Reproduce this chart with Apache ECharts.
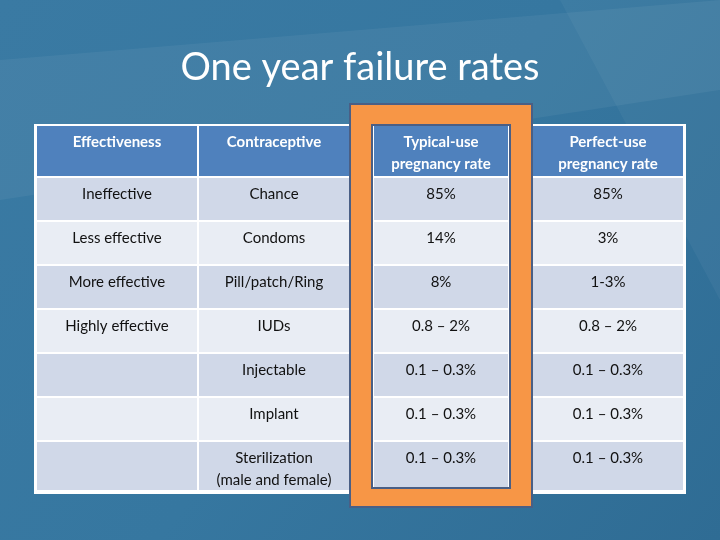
<!DOCTYPE html>
<html><head><meta charset="utf-8">
<script src="https://cdn.jsdelivr.net/npm/echarts@6/dist/echarts.min.js"></script>
<style>html,body{margin:0;padding:0}#c{width:720px;height:540px}</style>
</head><body><div id="c"></div>
<script>
var title = 'One year failure rates';
var headers = ['Effectiveness', 'Contraceptive', 'Typical-use\npregnancy rate', 'Perfect-use\npregnancy rate'];
var effectiveness = ['Ineffective', 'Less effective', 'More effective', 'Highly effective', '', '', ''];
var contraceptive = ['Chance', 'Condoms', 'Pill/patch/Ring', 'IUDs', 'Injectable', 'Implant', 'Sterilization\n(male and female)'];
var typicalUse = ['85%', '14%', '8%', '0.8 – 2%', '0.1 – 0.3%', '0.1 – 0.3%', '0.1 – 0.3%'];
var perfectUse = ['85%', '3%', '1-3%', '0.8 – 2%', '0.1 – 0.3%', '0.1 – 0.3%', '0.1 – 0.3%'];

var colX = [36, 198, 350, 532, 684];
var rowY = [178, 222, 266, 310, 354, 398, 442, 492];
var headTop = 126;
var F = 'Lato, "Open Sans", sans-serif';
var els = [];
// background
els.push({type:'rect', shape:{x:0,y:0,width:720,height:540}, style:{fill:new echarts.graphic.LinearGradient(0,0,1,1,[{offset:0,color:'#3a7aa3'},{offset:0.5,color:'#3677a0'},{offset:1,color:'#2f6c94'}])}});
els.push({type:'polygon', shape:{points:[[0,60],[720,0],[720,90],[0,200]]}, style:{fill:'rgba(255,255,255,0.05)'}});
els.push({type:'polygon', shape:{points:[[560,0],[720,0],[720,300]]}, style:{fill:'rgba(255,255,255,0.04)'}});
els.push({type:'text', x:360, y:68, style:{text:title, font:'38px '+F, fill:'#fff', align:'center', verticalAlign:'middle'}});
// table white base
els.push({type:'rect', shape:{x:colX[0]-2,y:headTop-2,width:colX[4]-colX[0]+4,height:rowY[7]-headTop+4}, style:{fill:'#fff'}});
function cell(c, y0, y1, fill, txt, bold, color, ty){
  var x0 = colX[c]+1, x1 = colX[c+1]-1;
  els.push({type:'rect', shape:{x:x0,y:y0,width:x1-x0,height:y1-y0}, style:{fill:fill}});
  els.push({type:'text', x:(x0+x1)/2, y:ty, style:{text:txt, font:(bold?'bold ':'')+'15px '+F, fill:color, align:'center', verticalAlign:'top', lineHeight:22}});
}
var cols = [effectiveness, contraceptive, typicalUse, perfectUse];
for (var c=0;c<4;c++){
  if (c===2) continue;
  cell(c, headTop, rowY[0]-2, '#4f81bd', headers[c], true, '#fff', headTop+5);
  for (var r=0;r<7;r++) cell(c, rowY[r], rowY[r+1]-2, r%2===0?'#d0d8e8':'#e9edf4', cols[c][r], false, '#111', rowY[r]+5);
}
// orange frame
els.push({type:'rect', shape:{x:350,y:104,width:182,height:403}, style:{fill:'#f79646', stroke:'#4a5f85', lineWidth:2}});
els.push({type:'rect', shape:{x:372,y:125,width:138,height:363}, style:{fill:'#fff', stroke:'#4a5f85', lineWidth:2}});
var sx=colX[2], ex=colX[3];
colX[2]=373; colX[3]=509;
cell(2, 126, rowY[0]-2, '#4f81bd', headers[2], true, '#fff', headTop+5);
for (var r=0;r<7;r++) cell(2, rowY[r], r===6?487:rowY[r+1]-2, r%2===0?'#d0d8e8':'#e9edf4', typicalUse[r], false, '#111', rowY[r]+5);
colX[2]=sx; colX[3]=ex;
var chart = echarts.init(document.getElementById('c'));
chart.setOption({animation:false, graphic:els});
</script></body></html>
